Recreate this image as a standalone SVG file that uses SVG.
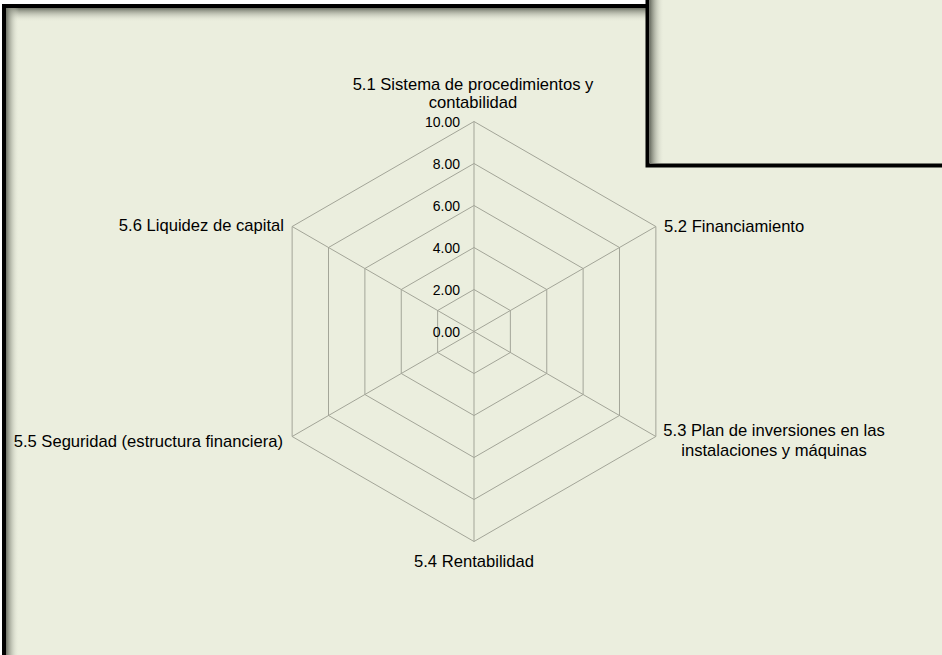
<svg xmlns="http://www.w3.org/2000/svg" width="942" height="655" viewBox="0 0 942 655">
  <style>
    .ring { fill: none; stroke: #a3a598; stroke-width: 1; }
    .axis { stroke: #a3a598; stroke-width: 1; }
    .tick { font-family: "Liberation Sans", Arial, sans-serif; font-size: 14px; fill: #000; text-anchor: end; }
    .cat { font-family: "Liberation Sans", Arial, sans-serif; font-size: 16.6px; fill: #000; }
  </style>
  <defs>
    <linearGradient id="shadeTop" x1="0" y1="0" x2="0" y2="1">
      <stop offset="0" stop-color="#6e7266"/>
      <stop offset="1" stop-color="#ebeede" stop-opacity="0"/>
    </linearGradient>
    <linearGradient id="shadeLeft" x1="0" y1="0" x2="1" y2="0">
      <stop offset="0" stop-color="#6e7266"/>
      <stop offset="1" stop-color="#ebeede" stop-opacity="0"/>
    </linearGradient>
  </defs>

  <!-- page -->
  <rect width="942" height="655" fill="#ffffff"/>

  <!-- main panel -->
  <g id="panel">
    <rect x="2" y="4" width="950" height="660" fill="#ebeede"/>
    <rect x="6" y="8" width="940" height="14" fill="url(#shadeTop)"/>
    <rect x="6" y="8" width="13" height="650" fill="url(#shadeLeft)"/>
    <rect x="4" y="6" width="950" height="660" fill="none" stroke="#000" stroke-width="4"/>
  </g>

  <!-- top-right box -->
  <g id="corner-box">
    <rect x="646" y="-4" width="300" height="171" fill="#ebeede"/>
    <rect x="650" y="0" width="14" height="163" fill="url(#shadeLeft)"/>
    <path d="M647.5 0 V165.5 H942" fill="none" stroke="#000" stroke-width="4"/>
  </g>

  <!-- radar grid -->
  <g id="connectors">
    <polygon class="ring" points="474,289.5 510.37,310.5 510.37,352.5 474,373.5 437.63,352.5 437.63,310.5"/>
    <polygon class="ring" points="474,247.5 546.75,289.5 546.75,373.5 474,415.5 401.25,373.5 401.25,289.5"/>
    <polygon class="ring" points="474,205.5 583.12,268.5 583.12,394.5 474,457.5 364.88,394.5 364.88,268.5"/>
    <polygon class="ring" points="474,163.5 619.49,247.5 619.49,415.5 474,499.5 328.51,415.5 328.51,247.5"/>
    <polygon class="ring" points="474,121.5 655.87,226.5 655.87,436.5 474,541.5 292.13,436.5 292.13,226.5"/>
    <line class="axis" x1="474" y1="331.5" x2="474" y2="121.5"/>
    <line class="axis" x1="474" y1="331.5" x2="655.87" y2="226.5"/>
    <line class="axis" x1="474" y1="331.5" x2="655.87" y2="436.5"/>
    <line class="axis" x1="474" y1="331.5" x2="474" y2="541.5"/>
    <line class="axis" x1="474" y1="331.5" x2="292.13" y2="436.5"/>
    <line class="axis" x1="474" y1="331.5" x2="292.13" y2="226.5"/>
  </g>

  <!-- scale labels -->
  <g id="scale">
    <text class="tick" x="460" y="127">10.00</text>
    <text class="tick" x="460" y="169">8.00</text>
    <text class="tick" x="460" y="211">6.00</text>
    <text class="tick" x="460" y="253">4.00</text>
    <text class="tick" x="460" y="295">2.00</text>
    <text class="tick" x="460" y="337">0.00</text>
  </g>

  <!-- category labels -->
  <g id="label-5-1">
    <text class="cat" x="473" y="90" text-anchor="middle">5.1 Sistema de procedimientos y</text>
    <text class="cat" x="473" y="108" text-anchor="middle">contabilidad</text>
  </g>
  <g id="label-5-2">
    <text class="cat" x="664" y="232">5.2 Financiamiento</text>
  </g>
  <g id="label-5-3">
    <text class="cat" x="774" y="436" text-anchor="middle">5.3 Plan de inversiones en las</text>
    <text class="cat" x="774" y="456" text-anchor="middle">instalaciones y máquinas</text>
  </g>
  <g id="label-5-4">
    <text class="cat" x="474" y="567" text-anchor="middle">5.4 Rentabilidad</text>
  </g>
  <g id="label-5-5">
    <text class="cat" x="283" y="447" text-anchor="end">5.5 Seguridad (estructura financiera)</text>
  </g>
  <g id="label-5-6">
    <text class="cat" x="284" y="231" text-anchor="end">5.6 Liquidez de capital</text>
  </g>
</svg>
